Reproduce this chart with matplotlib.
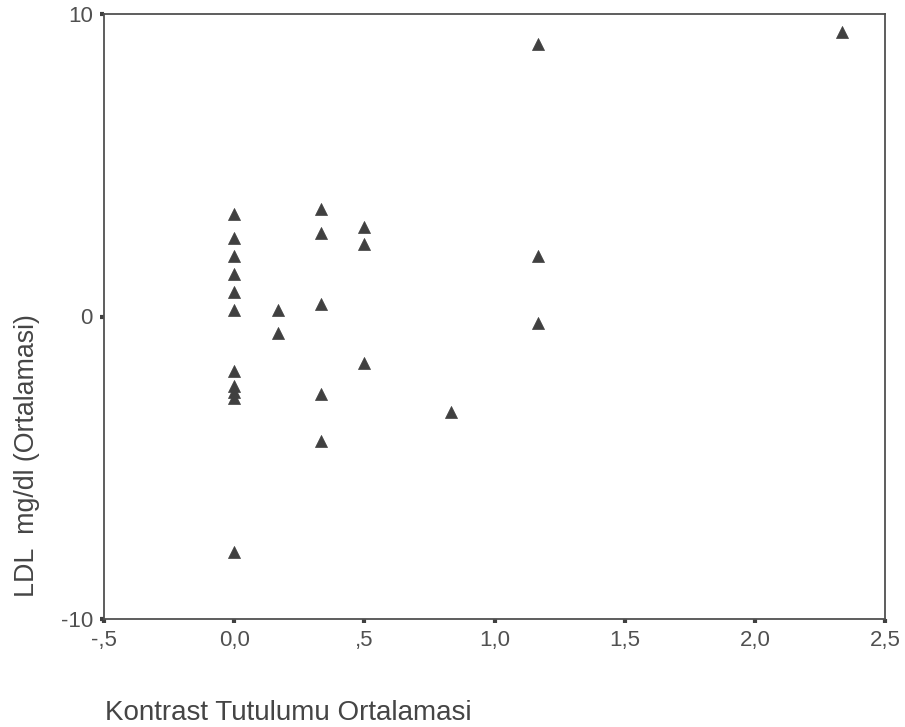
import matplotlib
matplotlib.use("Agg")
import matplotlib.pyplot as plt
from matplotlib.ticker import FixedLocator

plt.rcParams['font.family'] = ['Liberation Sans', 'DejaVu Sans']

# Data
kontrast = [0.0, 0.0, 0.0, 0.0, 0.0, 0.0, 0.0, 0.0, 0.0, 0.0, 0.0,
            0.167, 0.167,
            0.333, 0.333, 0.333, 0.333, 0.333,
            0.5, 0.5, 0.5,
            0.833,
            1.167, 1.167, 1.167,
            2.333]
ldl = [3.4, 2.6, 2.0, 1.4, 0.8, 0.2, -1.8, -2.3, -2.5, -2.7, -7.8,
       0.2, -0.55,
       3.55, 2.75, 0.4, -2.55, -4.1,
       2.95, 2.4, -1.55,
       -3.15,
       9.0, 2.0, -0.2,
       9.4]

xticks = [-0.5, 0.0, 0.5, 1.0, 1.5, 2.0, 2.5]
xticklabels = ["-,5", "0,0", ",5", "1,0", "1,5", "2,0", "2,5"]
yticks = [-10, 0, 10]
yticklabels = ["-10", "0", "10"]

fig = plt.figure(figsize=(9.05, 7.27), dpi=100)
ax = fig.add_axes([104/905, 1-619/727, (885-104)/905, (619-14)/727])

ax.scatter(kontrast, ldl, marker='^', s=75, color='#404040', edgecolors='#404040',
           linewidths=0.5, zorder=3, clip_on=False)

ax.set_xlim(-0.5, 2.5)
ax.set_ylim(-10, 10)
ax.xaxis.set_major_locator(FixedLocator(xticks))
ax.set_xticklabels(xticklabels)
ax.yaxis.set_major_locator(FixedLocator(yticks))
ax.set_yticklabels(yticklabels)

for sp in ax.spines.values():
    sp.set_color('#505050')
    sp.set_linewidth(1.3)

ax.tick_params(axis='both', direction='out', length=3, width=3, color='#404040',
               labelsize=16, labelcolor='#505050', pad=5)

fig.text(27/905, 1-456/727, "LDL  mg/dl (Ortalamasi)", rotation=90,
         ha='center', va='center', fontsize=19.3, color='#454545')
fig.text(105/905, 1-713/727, "Kontrast Tutulumu Ortalamasi",
         ha='left', va='center', fontsize=20, color='#454545')

fig.savefig("out.png", dpi=100, facecolor='white')
